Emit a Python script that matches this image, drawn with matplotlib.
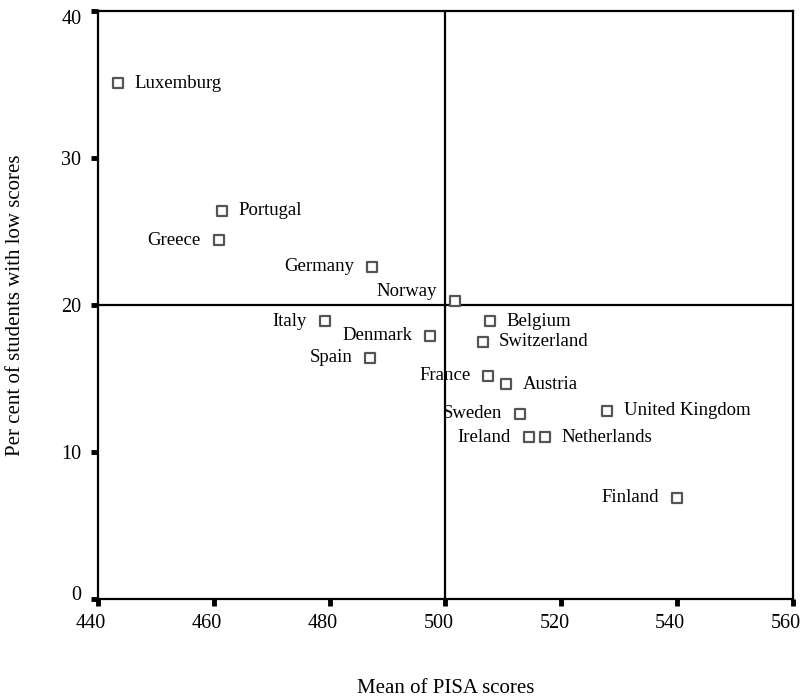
import matplotlib
matplotlib.use("Agg")
import matplotlib.pyplot as plt
from matplotlib.transforms import ScaledTranslation

plt.rcParams['font.family'] = ['Liberation Serif', 'DejaVu Serif']

countries = ["Luxemburg", "Portugal", "Greece", "Germany", "Norway", "Italy",
             "Denmark", "Belgium", "Switzerland", "Spain", "France", "Austria",
             "Sweden", "United Kingdom", "Ireland", "Netherlands", "Finland"]
mean_scores = [443.5, 461.4, 460.9, 487.3, 501.7, 479.2,
               497.4, 507.7, 506.4, 487.0, 507.4, 510.4,
               512.9, 527.9, 514.4, 517.1, 540.0]
pct_low = [35.1, 26.4, 24.4, 22.6, 20.3, 18.9,
           17.9, 18.9, 17.5, 16.4, 15.2, 14.6,
           12.6, 12.8, 11.0, 11.0, 6.9]
# label side: 'r' = right of marker, 'l' = left, 'ul' = upper left
label_side = ["r", "r", "l", "l", "ul", "l",
              "l", "r", "r", "l", "l", "r",
              "l", "r", "l", "r", "l"]

x_ticks = [440, 460, 480, 500, 520, 540, 560]
y_ticks = [0, 10, 20, 30, 40]
mean_ref = 500
low_ref = 20

fig = plt.figure(figsize=(8.05, 6.99), dpi=100)
ax = fig.add_axes([0.1217, 0.1431, 0.8634, 0.8412])

ax.axvline(mean_ref, color="black", lw=1.6, zorder=1)
ax.axhline(low_ref, color="black", lw=1.6, zorder=1)

ax.scatter(mean_scores, pct_low, marker="s", s=42, facecolor="white",
           edgecolor="#555555", linewidths=1.6, zorder=3)

lab_fs = 13.5
for name, x, y, side in zip(countries, mean_scores, pct_low, label_side):
    if side == "r":
        ax.annotate(name, (x, y), xytext=(12, 0), textcoords="offset points",
                    ha="left", va="center", fontsize=lab_fs)
    elif side == "l":
        ax.annotate(name, (x, y), xytext=(-13, 0), textcoords="offset points",
                    ha="right", va="center", fontsize=lab_fs)
    else:
        ax.annotate(name, (x, y), xytext=(-13, 6.5), textcoords="offset points",
                    ha="right", va="center", fontsize=lab_fs)

ax.set_xlim(440, 560)
ax.set_ylim(0, 40)
ax.set_xticks(x_ticks)
ax.set_yticks(y_ticks)
ax.tick_params(axis="both", direction="out", length=5, width=3.5,
               labelsize=14.5, color="black")
ax.tick_params(axis="x", pad=6)
ax.tick_params(axis="y", pad=7)
for sp in ax.spines.values():
    sp.set_linewidth(1.6)
    sp.set_color("black")

# x tick labels sit a little to the left of their ticks
for lbl in ax.get_xticklabels():
    lbl.set_transform(lbl.get_transform() + ScaledTranslation(-5 / 72, 0, fig.dpi_scale_trans))
# end labels of the y axis are pulled inward
ylbls = ax.get_yticklabels()
ylbls[0].set_transform(ylbls[0].get_transform() + ScaledTranslation(0, 6 / 100, fig.dpi_scale_trans))
ylbls[-1].set_transform(ylbls[-1].get_transform() + ScaledTranslation(0, -6 / 100, fig.dpi_scale_trans))

ax.set_xlabel("Mean of PISA scores", fontsize=15, labelpad=33)
ax.set_ylabel("Per cent of students with low scores", fontsize=15, labelpad=26)

fig.savefig("out.png", dpi=100)
